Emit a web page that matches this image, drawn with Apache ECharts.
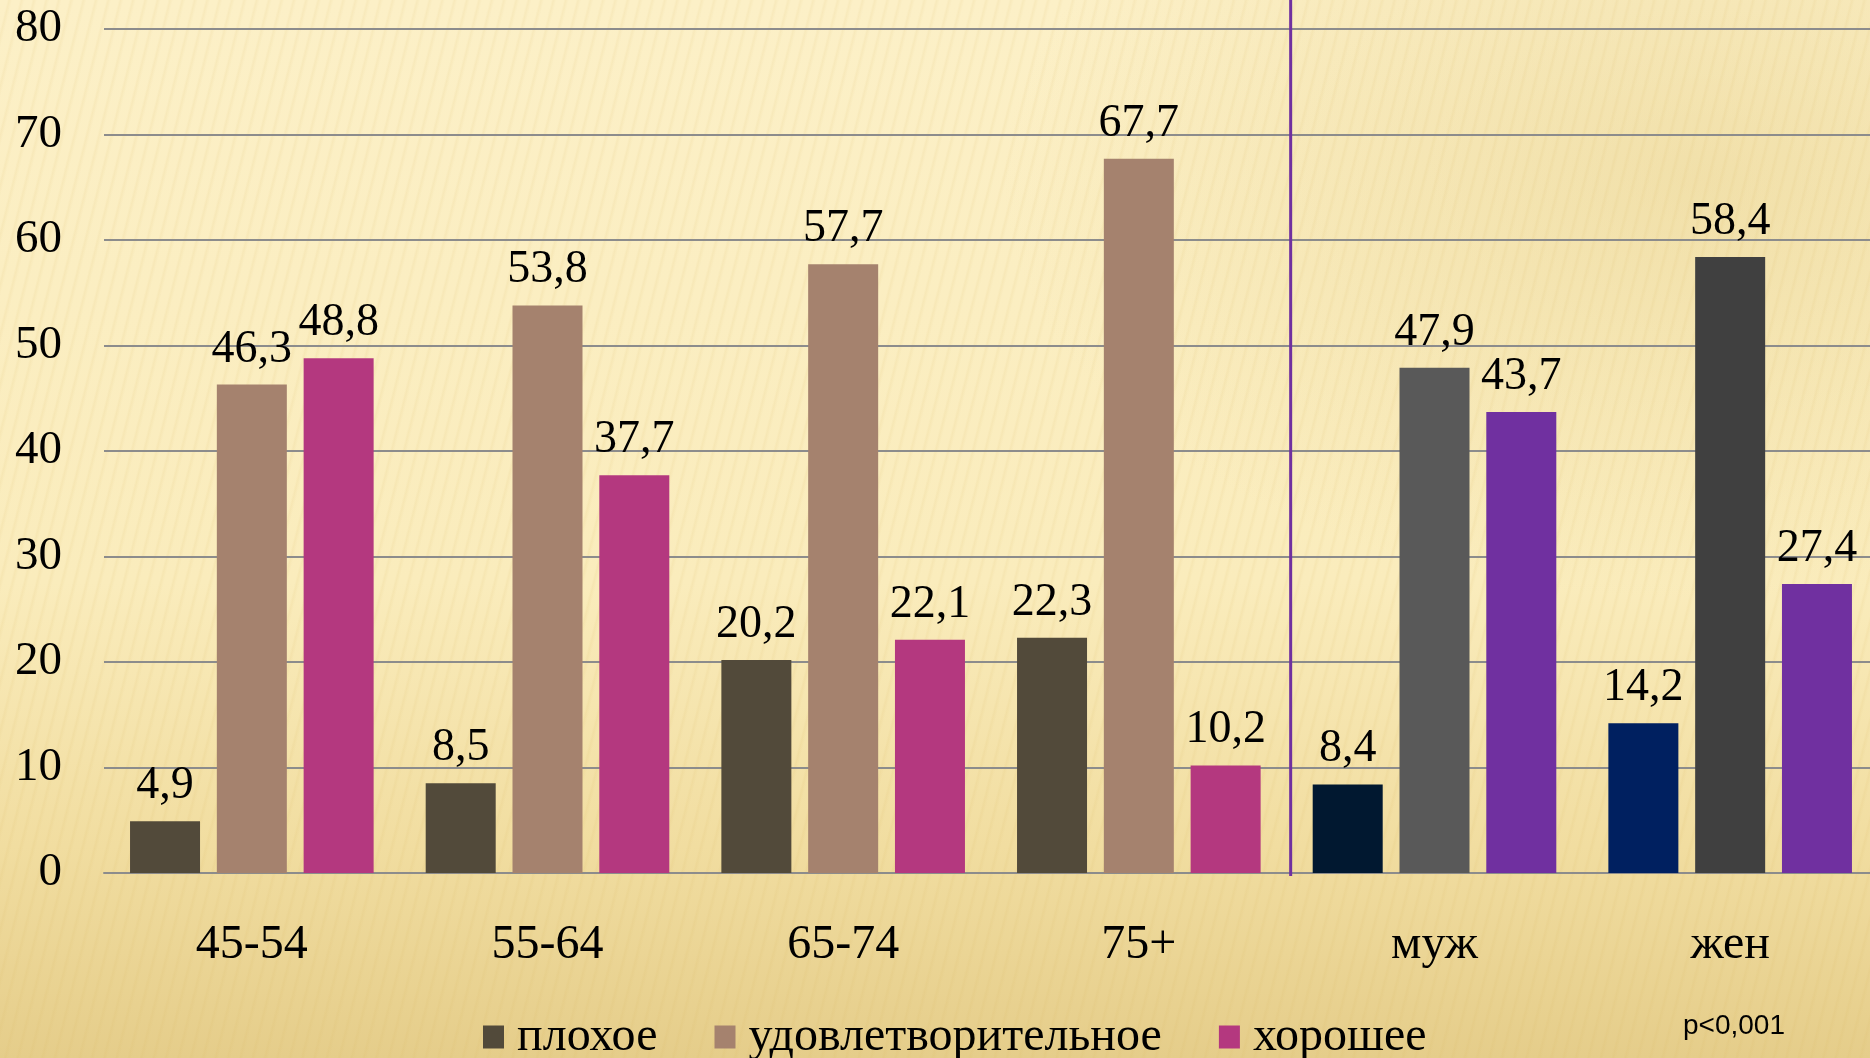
<!DOCTYPE html>
<html>
<head>
<meta charset="utf-8">
<title>Самооценка здоровья</title>
<script src="https://cdn.jsdelivr.net/npm/echarts@6/dist/echarts.min.js"></script>
<style>
    html, body {
        margin: 0;
        padding: 0;
        overflow: hidden;
    }
    #chart {
        width: 1870px;
        height: 1058px;
        background:
            repeating-linear-gradient(104deg, rgba(255, 255, 255, 0) 0px, rgba(255, 255, 255, 0) 7px, rgba(214, 178, 90, 0.10) 9px, rgba(255, 255, 255, 0) 12px),
            radial-gradient(ellipse 700px 420px at 1700px 180px, rgba(222, 196, 120, 0.35), rgba(222, 196, 120, 0)),
            linear-gradient(to bottom, #fcf0c7 0%, #faecbc 55%, #f1dda0 80%, #e5cd8a 100%);
    }
</style>
</head>
<body>
<div id="chart"></div>
<script>
const categories = ['45-54', '55-64', '65-74', '75+', 'муж', 'жен'];
const seriesNames = ['плохое', 'удовлетворительное', 'хорошее'];
const badValues = [4.9, 8.5, 20.2, 22.3, 8.4, 14.2];
const fairValues = [46.3, 53.8, 57.7, 67.7, 47.9, 58.4];
const goodValues = [48.8, 37.7, 22.1, 10.2, 43.7, 27.4];
const yTicks = [0, 10, 20, 30, 40, 50, 60, 70, 80];

// цвета: возрастные группы, потом муж / жен
const badColors = ['#524a3a', '#524a3a', '#524a3a', '#524a3a', '#011830', '#002060'];
const fairColors = ['#a5826e', '#a5826e', '#a5826e', '#a5826e', '#595959', '#404040'];
const goodColors = ['#b4387f', '#b4387f', '#b4387f', '#b4387f', '#7030a0', '#7030a0'];

const serif = "'Liberation Serif', 'Times New Roman', serif";

function makeSeries(name, values, colors) {
    return {
        name: name,
        type: 'bar',
        barWidth: 70,
        barGap: '24%',
        itemStyle: { color: colors[0] },
        data: values.map((v, i) => ({ value: v, itemStyle: { color: colors[i] } })),
        label: {
            show: true,
            position: 'top',
            distance: 12,
            color: '#000',
            fontFamily: serif,
            fontSize: 46,
            formatter: p => p.value.toFixed(1).replace('.', ',')
        }
    };
}

const chart = echarts.init(document.getElementById('chart'));
const option = {
    animation: false,
    backgroundColor: 'transparent',
    grid: {
        left: 104,
        top: 29,
        width: 1774,
        height: 844,
        outerBoundsMode: 'none'
    },
    legend: {
        left: 483,
        top: 1013,
        padding: 0,
        itemWidth: 21,
        itemHeight: 23,
        itemGap: 57,
        icon: 'rect',
        data: seriesNames,
        textStyle: {
            fontFamily: serif,
            fontSize: 48,
            color: '#000',
            padding: [0, 0, 0, 8]
        }
    },
    xAxis: {
        type: 'category',
        data: categories,
        axisTick: { show: false },
        axisLine: { lineStyle: { color: '#8c8c8c', width: 2 } },
        axisLabel: {
            color: '#000',
            fontFamily: serif,
            fontSize: 48,
            margin: 48
        }
    },
    yAxis: {
        type: 'value',
        min: yTicks[0],
        max: yTicks[yTicks.length - 1],
        interval: 10,
        axisLine: { show: false },
        axisTick: { show: false },
        splitLine: { lineStyle: { color: '#8c8c8c', width: 2 } },
        axisLabel: {
            color: '#000',
            fontFamily: serif,
            fontSize: 47,
            margin: 42
        }
    },
    series: [
        makeSeries(seriesNames[0], badValues, badColors),
        makeSeries(seriesNames[1], fairValues, fairColors),
        makeSeries(seriesNames[2], goodValues, goodColors)
    ]
};

chart.setOption(option);

// разделитель между возрастными группами и полом
const xa = chart.convertToPixel({ xAxisIndex: 0 }, categories[3]);
const xb = chart.convertToPixel({ xAxisIndex: 0 }, categories[4]);
const xSep = (xa + xb) / 2 + 4;
const yBase = chart.convertToPixel({ yAxisIndex: 0 }, 0);

chart.setOption({
    graphic: [
        {
            type: 'line',
            shape: { x1: xSep, y1: 0, x2: xSep, y2: yBase + 3 },
            style: { stroke: '#7030a0', lineWidth: 3 },
            z: 1
        },
        {
            type: 'text',
            left: 1683,
            top: 1012,
            style: {
                text: 'p<0,001',
                fontFamily: "'Liberation Sans', Arial, sans-serif",
                fontSize: 28,
                fill: '#000'
            }
        }
    ]
});
</script>
</body>
</html>
